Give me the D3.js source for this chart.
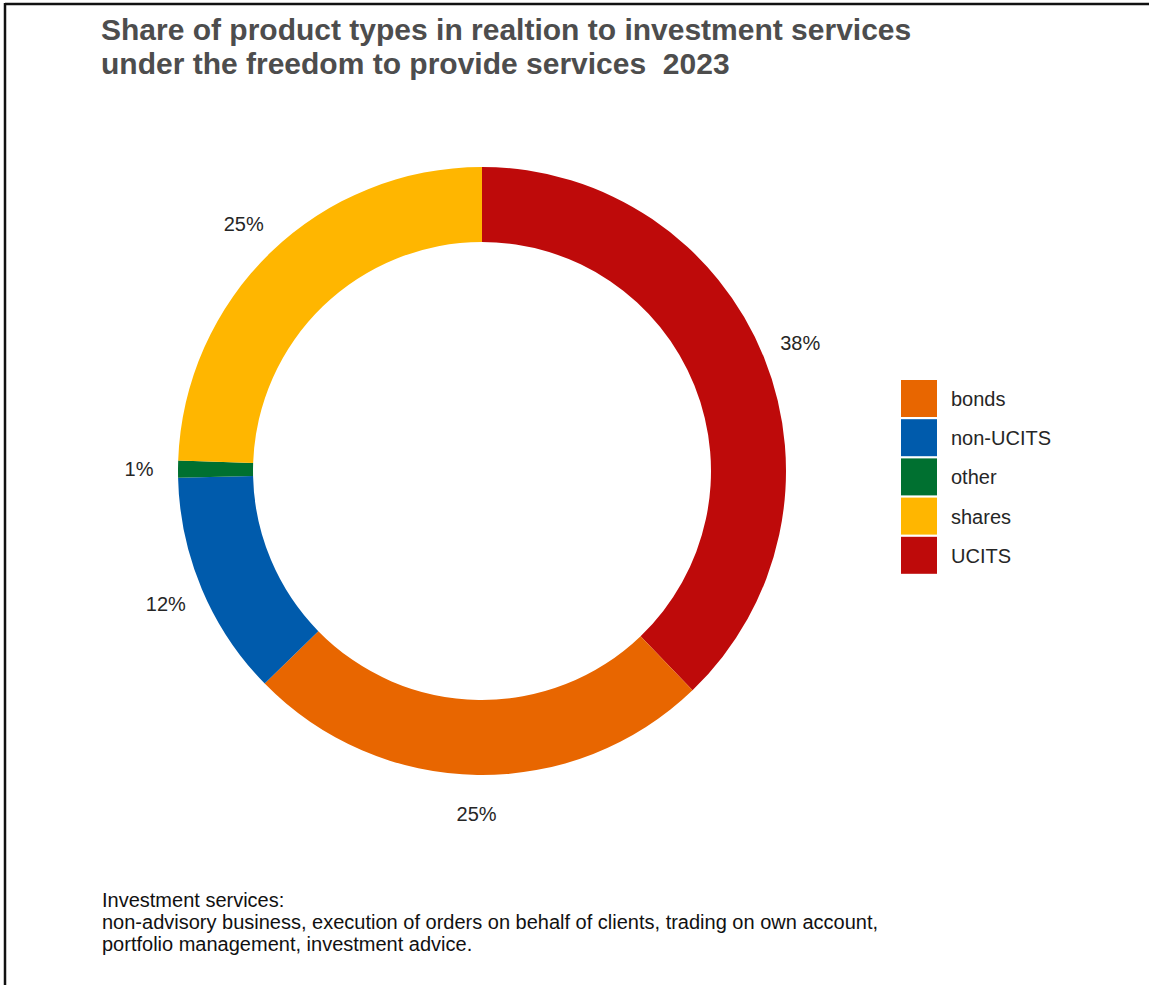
<!DOCTYPE html>
<html>
<head>
<meta charset="utf-8">
<script src="https://cdn.jsdelivr.net/npm/d3@7"></script>
<style>
  html, body { margin: 0; padding: 0; background: #fff; }
  svg { display: block; font-family: "Liberation Sans", Arial, sans-serif; }
  svg text { white-space: pre; }
</style>
</head>
<body>
<svg id="chart" width="1149" height="985"></svg>
<script>
// Product types, in drawing order (clockwise from 12 o'clock)
const categories = ["UCITS", "bonds", "non-UCITS", "other", "shares"];
const shares = [37.9, 24.9, 12.0, 0.9, 24.5];
const colors = ["#be0a0a", "#e86600", "#005bac", "#007030", "#ffb600"];
const legendOrder = ["bonds", "non-UCITS", "other", "shares", "UCITS"];
const titleLines = [
  "Share of product types in realtion to investment services",
  "under the freedom to provide services  2023"
];
const noteLines = [
  "Investment services:",
  "non-advisory business, execution of orders on behalf of clients, trading on own account,",
  "portfolio management, investment advice."
];

const svg = d3.select("#chart");
const W = 1149, H = 985;

// frame lines (top and left)
svg.append("line").attr("x1", 5).attr("x2", W).attr("y1", 4).attr("y2", 4)
  .attr("stroke", "#111").attr("stroke-width", 2.5);
svg.append("line").attr("x1", 5).attr("x2", 5).attr("y1", 3).attr("y2", H)
  .attr("stroke", "#111").attr("stroke-width", 2.5);

// title
svg.append("g").selectAll("text").data(titleLines).join("text")
  .attr("x", 101).attr("y", (d, i) => 40 + i * 34)
  .attr("font-size", 30).attr("font-weight", "bold").attr("fill", "#4d4d4d")
  .text(d => d);

const color = d3.scaleOrdinal().domain(categories).range(colors);
const data = categories.map((c, i) => ({ cat: c, value: shares[i] }));

const cx = 482, cy = 471, rOuter = 304, rInner = 229, rLabel = 343;
const pie = d3.pie().value(d => d.value).sort(null);
const arc = d3.arc().innerRadius(rInner).outerRadius(rOuter);
const labelArc = d3.arc().innerRadius(rLabel).outerRadius(rLabel);

const g = svg.append("g").attr("transform", `translate(${cx},${cy})`);
const arcs = pie(data);

g.selectAll("path").data(arcs).join("path")
  .attr("d", arc)
  .attr("fill", d => color(d.data.cat));

g.selectAll("text").data(arcs).join("text")
  .attr("transform", d => `translate(${labelArc.centroid(d)})`)
  .attr("text-anchor", "middle").attr("dominant-baseline", "central")
  .attr("font-size", 20).attr("fill", "#262626")
  .text(d => Math.round(d.data.value) + "%");

// legend
const legend = svg.append("g").attr("transform", "translate(901,380)");
const item = legend.selectAll("g").data(legendOrder).join("g")
  .attr("transform", (d, i) => `translate(0,${i * 39.2})`);
item.append("rect").attr("width", 36).attr("height", 37)
  .attr("fill", d => color(d));
item.append("text").attr("x", 50).attr("y", 19)
  .attr("dominant-baseline", "central")
  .attr("font-size", 20).attr("fill", "#262626")
  .text(d => d);

// footnote
svg.append("g").selectAll("text").data(noteLines).join("text")
  .attr("x", 102).attr("y", (d, i) => 907 + i * 22)
  .attr("font-size", 20).attr("fill", "#111")
  .text(d => d);
</script>
</body>
</html>
